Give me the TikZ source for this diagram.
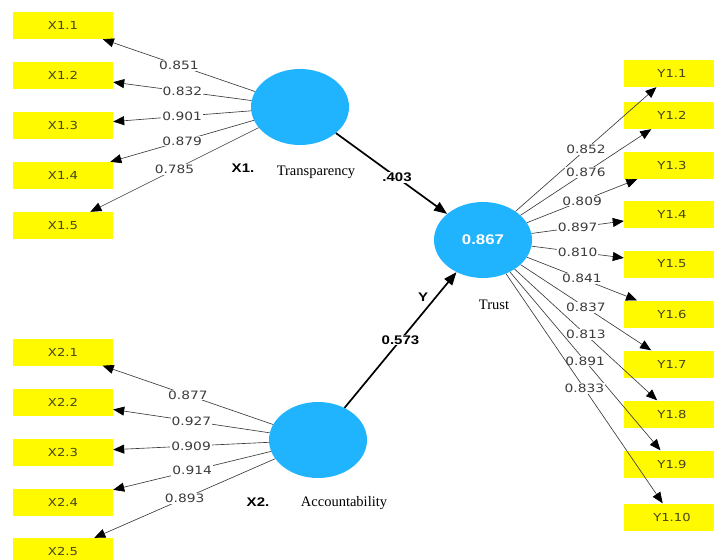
\documentclass[tikz,border=0pt]{standalone}
\usepackage{fontspec}
\usetikzlibrary{shapes.geometric,arrows.meta}
\setmainfont{Liberation Serif}
\newfontfamily\lblfont[FakeStretch=1.2]{DejaVu Sans}
\newfontfamily\bldfont[FakeStretch=1.2]{Liberation Sans}
\definecolor{boxyellow}{RGB}{255,250,0}
\definecolor{boxtext}{RGB}{70,70,25}
\definecolor{latblue}{RGB}{32,180,255}
\definecolor{linegray}{RGB}{60,60,60}
\definecolor{labeltext}{RGB}{60,60,60}
\begin{document}
\begin{tikzpicture}[x=1pt,y=-1pt,
  ind/.style={fill=boxyellow, minimum width=100pt, minimum height=27pt, inner sep=0pt,
    font=\lblfont\fontsize{11}{13}\selectfont, text=boxtext},
  indr/.style={ind, minimum width=96pt},
  lat/.style={ellipse, fill=latblue, minimum width=98pt, minimum height=76pt, inner sep=0pt},
  load/.style={draw=linegray, line width=0.65pt, -{Triangle[length=11pt,width=9pt,color=black]}},
  lv/.style={midway, fill=white, inner sep=1pt, font=\lblfont\fontsize{11.5}{13}\selectfont, text=labeltext},
  structural/.style={draw=black, line width=1.7pt, -{Triangle[length=13pt,width=10pt]}},
  bl/.style={font=\bldfont\bfseries\fontsize{12.5}{14}\selectfont, inner sep=1pt},
  nm/.style={font=\fontsize{14.5}{16}\selectfont, inner sep=0pt}
]
\useasboundingbox (0,0) rectangle (714,559);
\clip (0,0) rectangle (714,559);

% indicator boxes
\foreach \i/\y in {1/25.5,2/75.5,3/125.5,4/175.5,5/225.5}
  \node[ind] (x1\i) at (63,\y) {X1.\i};
\foreach \i/\y in {1/352,2/402,3/452,4/502,5/551.5}
  \node[ind] (x2\i) at (63,\y) {X2.\i};
\foreach \i/\y in {1/73.5,2/115.5,3/165.5,4/214.5,5/264,6/314,7/364,8/414,9/464,10/517}
  \node[indr] (y\i) at (672,\y) {Y1.\i};

% latent variables
\node[lat] (X1) at (300,107) {};
\node[lat] (X2) at (318,440) {};
\node[lat, text=white, font=\bldfont\bfseries\fontsize{14}{16}\selectfont] (Y) at (483,240) {0.867};

% names
\node[bl] (nx1) at (243,168) {X1.};
\node[nm] (tx1) at (316,172) {Transparency};
\node[bl] (nx2) at (258,502) {X2.};
\node[nm] (tx2) at (344,503) {Accountability};
\node[nm] (ty) at (494,305) {Trust};
\node[bl] (ny) at (423,297) {Y};

% loadings
\foreach \i/\v in {1/0.851,2/0.832,3/0.901,4/0.879,5/0.785}
  \draw[load] (X1) -- (x1\i) node[lv] {\v};
\foreach \i/\v in {1/0.877,2/0.927,3/0.909,4/0.914,5/0.893}
  \draw[load] (X2) -- (x2\i) node[lv] {\v};
\foreach \i/\v in {1/0.852,2/0.876,3/0.809,4/0.897,5/0.810,6/0.841,7/0.837,8/0.813,9/0.891,10/0.833}
  \draw[load] (Y) -- (y\i) node[lv] {\v};

% structural paths
\draw[structural] (X1) -- (Y) node[pos=0.55, bl, fill=white] {.403};
\draw[structural] (X2) -- (Y) node[midway, bl, fill=white] {0.573};
\end{tikzpicture}
\end{document}
